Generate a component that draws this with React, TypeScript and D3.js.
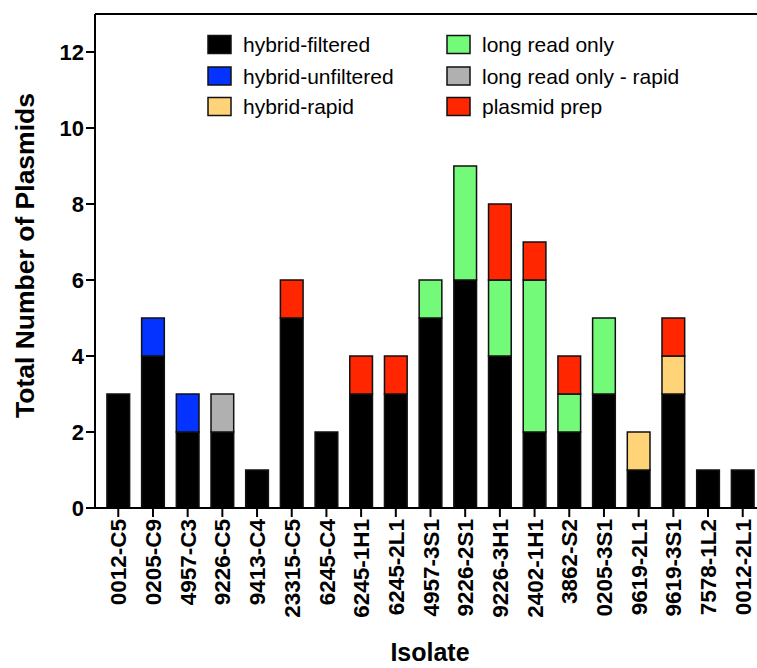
import React from "react";
import * as d3 from "d3";

const isolates = [
  "0012-C5", "0205-C9", "4957-C3", "9226-C5", "9413-C4", "23315-C5", "6245-C4",
  "6245-1H1", "6245-2L1", "4957-3S1", "9226-2S1", "9226-3H1", "2402-1H1",
  "3862-S2", "0205-3S1", "9619-2L1", "9619-3S1", "7578-1L2", "0012-2L1",
];

const hybridFiltered = [3, 4, 2, 2, 1, 5, 2, 3, 3, 5, 6, 4, 2, 2, 3, 1, 3, 1, 1];
const hybridUnfiltered = [0, 1, 1, 0, 0, 0, 0, 0, 0, 0, 0, 0, 0, 0, 0, 0, 0, 0, 0];
const hybridRapid = [0, 0, 0, 0, 0, 0, 0, 0, 0, 0, 0, 0, 0, 0, 0, 1, 1, 0, 0];
const longReadOnly = [0, 0, 0, 0, 0, 0, 0, 0, 0, 1, 3, 2, 4, 1, 2, 0, 0, 0, 0];
const longReadRapid = [0, 0, 0, 1, 0, 0, 0, 0, 0, 0, 0, 0, 0, 0, 0, 0, 0, 0, 0];
const plasmidPrep = [0, 0, 0, 0, 0, 1, 0, 1, 1, 0, 0, 2, 1, 1, 0, 0, 1, 0, 0];

const seriesNames = [
  "hybrid-filtered", "hybrid-unfiltered", "hybrid-rapid",
  "long read only", "long read only - rapid", "plasmid prep",
];
const seriesColors = ["#000000", "#0433ff", "#ffd479", "#73fa79", "#b0b0b0", "#ff2600"];
const yTicks = [0, 2, 4, 6, 8, 10, 12];

const FONT = "'Liberation Sans', Arial, Helvetica, sans-serif";

export default function App() {
  const width = 757;
  const height = 668;
  const left = 95;
  const top = 14;
  const bottom = 508;

  const rows = isolates.map((name, i) => ({
    name,
    s0: hybridFiltered[i],
    s1: hybridUnfiltered[i],
    s2: hybridRapid[i],
    s3: longReadOnly[i],
    s4: longReadRapid[i],
    s5: plasmidPrep[i],
  }));
  const keys = ["s0", "s1", "s2", "s3", "s4", "s5"];
  const stacked = d3.stack<any>().keys(keys)(rows);

  const x = d3
    .scaleBand()
    .domain(isolates)
    .range([left, 766])
    .paddingInner(0.346)
    .paddingOuter(0.344);

  const y = d3.scaleLinear().domain([0, 13]).range([bottom, top]);

  // legend layout: two columns of three
  const legendCols = [208, 447];
  const legendRows = [44.5, 76, 106.5];

  return (
    <svg width={width} height={height} style={{ position: "absolute", left: 0, top: 0 }}>
      <rect width={width} height={height} fill="#fff" />
      {stacked.map((layer, li) => (
        <g key={li} fill={seriesColors[li]}>
          {layer.map((d, i) =>
            d[1] - d[0] > 0 ? (
              <rect
                key={i}
                x={x(isolates[i])}
                y={y(d[1])}
                width={x.bandwidth()}
                height={y(d[0]) - y(d[1])}
                stroke="#111"
                strokeWidth={1.5}
              />
            ) : null
          )}
        </g>
      ))}

      {/* axes */}
      <line x1={left} x2={width} y1={top} y2={top} stroke="#000" strokeWidth={2} />
      <line x1={left} x2={left} y1={top} y2={bottom} stroke="#000" strokeWidth={2} />
      <line x1={left} x2={width} y1={bottom} y2={bottom} stroke="#000" strokeWidth={2} />

      {yTicks.map((t) => (
        <g key={t} transform={`translate(0,${y(t)})`}>
          <line x1={left - 9} x2={left} stroke="#000" strokeWidth={2} />
          <text
            x={left - 11}
            dy="0.36em"
            textAnchor="end"
            fontFamily={FONT}
            fontWeight="bold"
            fontSize={22}
          >
            {t}
          </text>
        </g>
      ))}

      {isolates.map((name) => {
        const cx = (x(name) as number) + x.bandwidth() / 2;
        return (
          <g key={name}>
            <line x1={cx} x2={cx} y1={bottom} y2={bottom + 9} stroke="#000" strokeWidth={2} />
            <text
              transform={`translate(${cx},${bottom + 11}) rotate(-90)`}
              dy="0.36em"
              textAnchor="end"
              fontFamily={FONT}
              fontWeight="bold"
              fontSize={22.5}
            >
              {name}
            </text>
          </g>
        );
      })}

      <text
        transform={`translate(34,255.5) rotate(-90)`}
        textAnchor="middle"
        fontFamily={FONT}
        fontWeight="bold"
        fontSize={26.5}
      >
        Total Number of Plasmids
      </text>
      <text
        x={430}
        y={661}
        textAnchor="middle"
        fontFamily={FONT}
        fontWeight="bold"
        fontSize={25}
      >
        Isolate
      </text>

      {/* legend */}
      {seriesNames.map((name, i) => {
        const col = Math.floor(i / 3);
        const row = i % 3;
        const lx = legendCols[col];
        const ly = legendRows[row];
        return (
          <g key={name}>
            <rect
              x={lx}
              y={ly - 9}
              width={23}
              height={18}
              fill={seriesColors[i]}
              stroke="#111"
              strokeWidth={1.5}
            />
            <text x={lx + 35} y={ly} dy="0.36em" fontFamily={FONT} fontSize={21}>
              {name}
            </text>
          </g>
        );
      })}
    </svg>
  );
}
